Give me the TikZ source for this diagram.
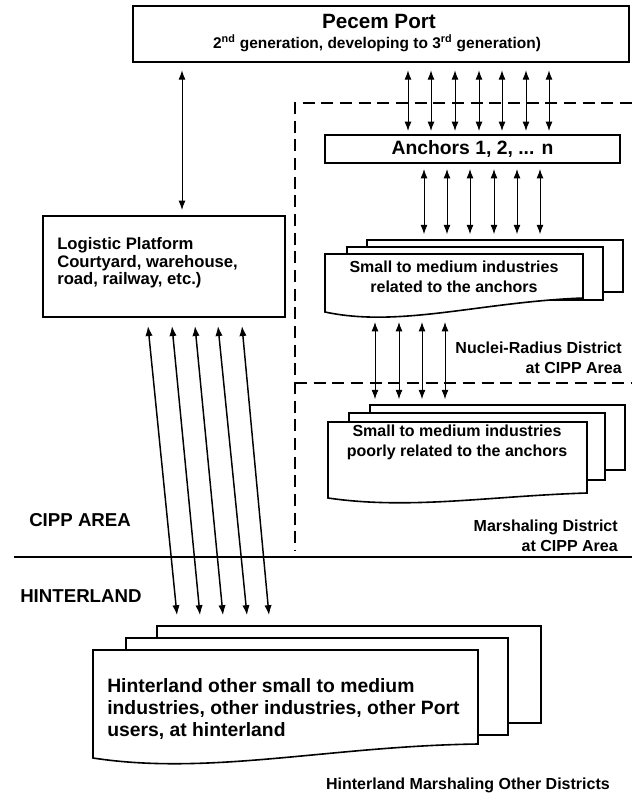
\documentclass[tikz,border=0pt]{standalone}
\usepackage{fontspec}
\setmainfont{Liberation Sans}
\usetikzlibrary{arrows.meta,calc}
\begin{document}
\begin{tikzpicture}[x=0.75pt,y=-0.75pt,
  box/.style={draw,line width=1.5pt,fill=white,inner sep=0pt},
  sheet/.style={draw,line width=1.2pt,fill=white,inner sep=0pt},
  arr/.style={{Latex[length=7pt,width=5.2pt]}-{Latex[length=7pt,width=5.2pt]},line width=0.75pt},
  harr/.style={{Latex[length=7.5pt,width=5.5pt]}-{Latex[length=7.5pt,width=5.5pt]},line width=1.1pt},
  dline/.style={line width=1.1pt,dash pattern=on 9pt off 5pt},
  lbl/.style={font=\bfseries\fontsize{12}{15}\selectfont,inner sep=0pt,align=right},
  bigl/.style={font=\bfseries\fontsize{14}{16}\selectfont,inner sep=0pt},
  boxtxt/.style={font=\bfseries\fontsize{12}{15}\selectfont,inner sep=0pt,align=center}
]
\useasboundingbox (0,0) rectangle (632,800);
\fill[white] (0,0) rectangle (632,800);

% dashed district borders
\draw[dline] (632,103) -- (295,103) -- (295,551);
\draw[dline] (295,383) -- (632,383);
% CIPP / hinterland border
\draw[line width=1.5pt] (14,557) -- (632,557);

% Pecem Port
\node[box,line width=1.9pt,minimum width=372pt,minimum height=42pt] (pecem) at (381,34) {};
\node[inner sep=0pt,font=\bfseries\fontsize{15.5}{17}\selectfont] (pecemA) at (379,21) {Pecem Port};
\node[inner sep=0pt,font=\bfseries\fontsize{11.6}{14}\selectfont] (pecemB) at (377,43) {2\textsuperscript{nd} generation, developing to 3\textsuperscript{rd} generation)};

% Logistic platform
\node[box,minimum width=181.5pt,minimum height=75.75pt] (logistic) at (164,266.5) {};
\node[anchor=west,inner sep=0pt,align=left,font=\bfseries\fontsize{12.5}{13.2}\selectfont] (logtxt) at (57,263) {Logistic Platform\\Courtyard, warehouse,\\road, railway, etc.)};

% Anchors
\node[box,minimum width=221.25pt,minimum height=21pt,font=\bfseries\fontsize{14.5}{16}\selectfont] (anchors) at (472.5,149) {Anchors 1, 2, ... n};

% Stack 1: related industries
\node[sheet,minimum width=192pt,minimum height=39pt] (s1back) at (495,266) {};
\node[sheet,minimum width=192pt,minimum height=39.75pt] (s1mid) at (475,273.5) {};
\draw[sheet] (325,254) -- (583,254) -- (583,298) .. controls (480,302) and (400,328) .. (325,312) -- cycle;
\node[boxtxt] (s1) at (454,277) {Small to medium industries\\related to the anchors};
\coordinate (s1bot) at (410,322);

% Stack 2: poorly related industries
\node[sheet,minimum width=191.25pt,minimum height=48.75pt] (s2back) at (497.5,437.5) {};
\node[sheet,minimum width=192pt,minimum height=50.25pt] (s2mid) at (477,446.5) {};
\draw[sheet] (328,422) -- (587,422) -- (587,493) .. controls (490,496) and (410,510) .. (328,498) -- cycle;
\node[boxtxt] (s2) at (457,442) {Small to medium industries\\poorly related to the anchors};

% Stack 3: hinterland
\node[sheet,minimum width=288pt,minimum height=72.75pt] (h3) at (349,674.5) {};
\node[sheet,minimum width=286.5pt,minimum height=72.75pt] (h2) at (317,686.5) {};
\draw[sheet] (93,650) -- (478,650) -- (478,744) .. controls (330,746) and (210,776) .. (93,758) -- cycle;
\node[anchor=west,inner sep=0pt,align=left,font=\bfseries\fontsize{14.5}{16.5}\selectfont] (htxt) at (107,709) {Hinterland other small to medium\\industries, other industries, other Port\\users, at hinterland};

% labels
\node[lbl,anchor=east] (nuclei) at (622,358) {Nuclei-Radius District\\at CIPP Area};
\node[lbl,anchor=east] (marsh) at (618,536) {Marshaling District\\at CIPP Area};
\node[bigl,anchor=west] (cipp) at (29,520) {CIPP AREA};
\node[bigl,anchor=west] (hinter) at (20,596) {HINTERLAND};
\node[lbl,anchor=east] (hcap) at (610,785) {Hinterland Marshaling Other Districts};

% connectors
\draw[arr] ($(pecem.south -| 182,0)+(0,7)$) -- ($(logistic.north -| 182,0)+(0,-5)$);
\foreach \x in {408,431,455,479,502,526,549}
  \draw[arr] ($(pecem.south -| \x,0)+(0,7)$) -- ($(anchors.north -| \x,0)+(0,-3)$);
\foreach \x in {424,447,470,494,517,540}
  \draw[arr] ($(anchors.south -| \x,0)+(0,5)$) -- ($(s1back.north -| \x,0)+(0,-5)$);
\foreach \x in {375,399,422,445}
  \draw[arr] (s1bot -| \x,0) -- ($(s2back.north -| \x,0)+(0,-5)$);
\foreach \a/\b in {148/177,172/200,195/223,218/247,242/269}
  \draw[harr] ($(logistic.south -| \a,0)+(0,8)$) -- ($(h3.north -| \b,0)+(0,-10)$);
\end{tikzpicture}
\end{document}
